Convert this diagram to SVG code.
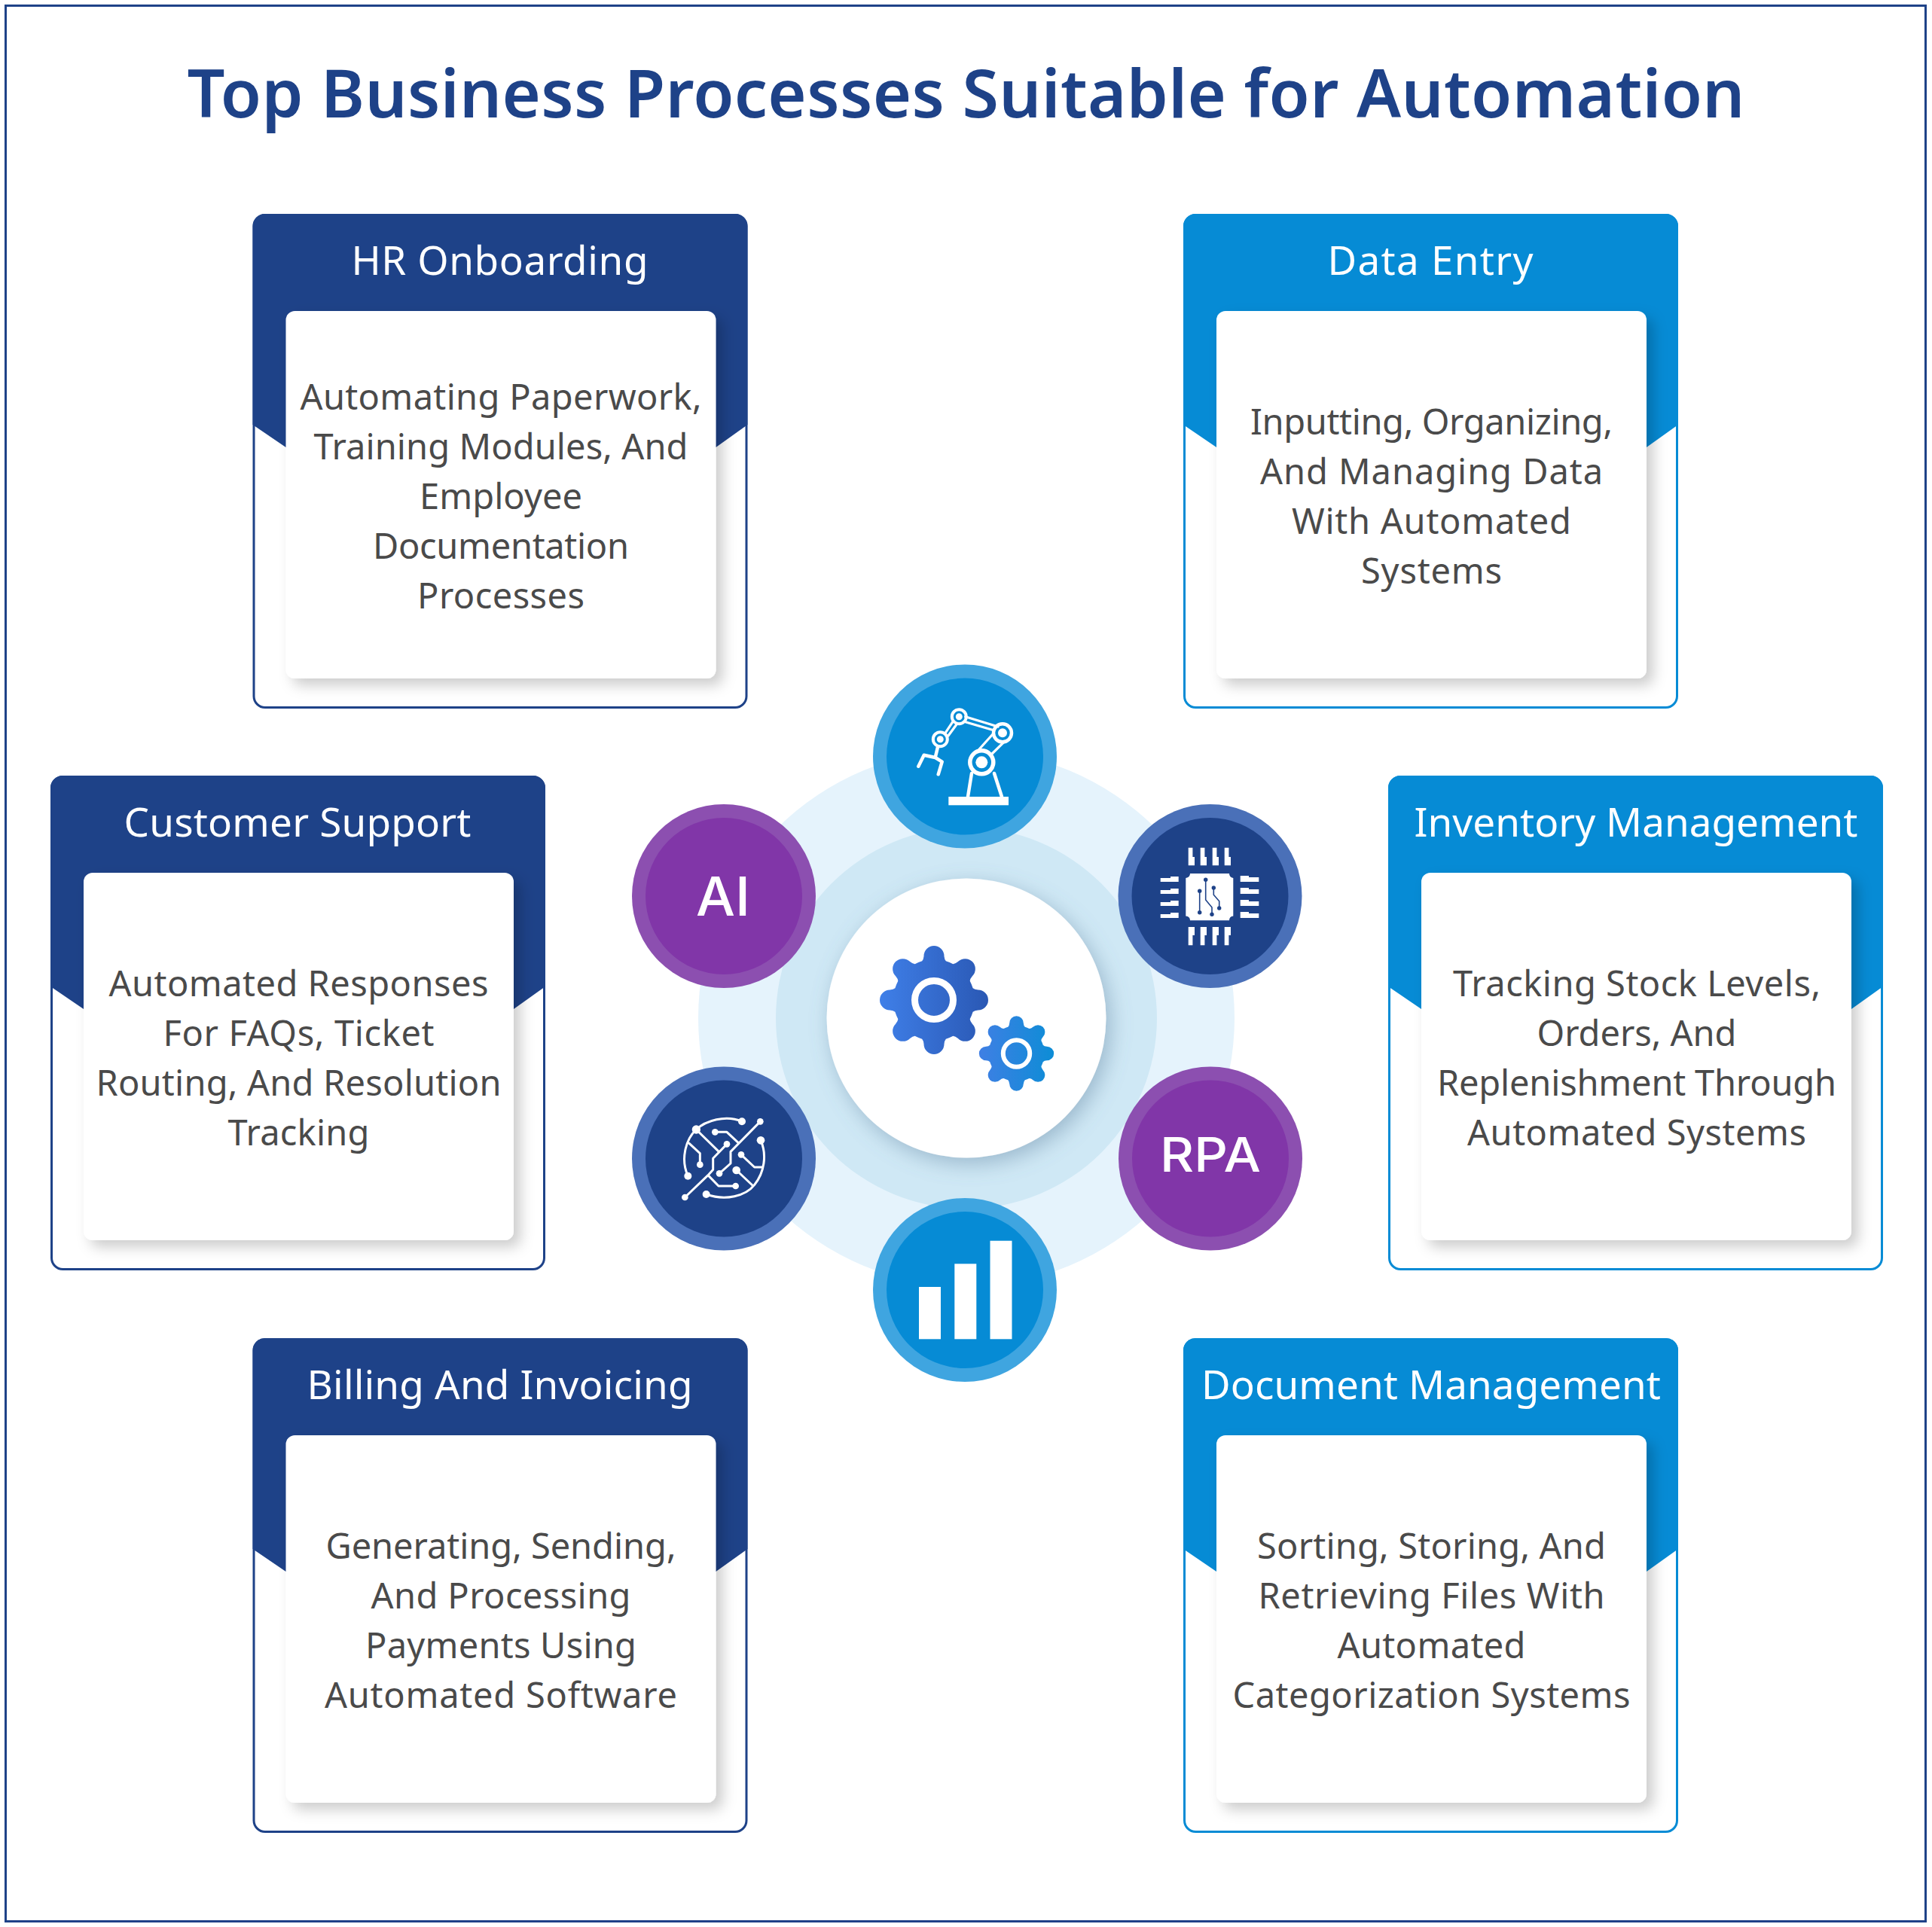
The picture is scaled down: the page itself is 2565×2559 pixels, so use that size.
<svg xmlns="http://www.w3.org/2000/svg" width="2565" height="2559" viewBox="0 0 2565 2559">
<style>
text{font-family:"Noto Sans","Liberation Sans",sans-serif;text-anchor:middle}
.title{font-size:88px;font-weight:600;fill:#1e4288}
.head{font-size:53px;fill:#fff}
.body{font-size:47px;fill:#4a4a4a}
.wt{fill:#fff}
.navy{color:#1e4288}
.sky{color:#068bd5}
.edge{fill:#fff;stroke:currentColor;stroke-width:3}
.band{fill:currentColor}
.inner{fill:#fff;filter:url(#cardShadow)}
.b-o{fill:#3fa5e0}.b-i{fill:#068bd5}
.n-o{fill:#4a70b8}.n-i{fill:#1e4288}
.p-o{fill:#8c4fb0}.p-i{fill:#8136a8}
.badge{font-family:Inter,"Noto Sans",sans-serif;font-weight:500;fill:#fff}
.ln{fill:none;stroke:#fff;stroke-linecap:round;stroke-linejoin:round}
</style>
<defs>
<filter id="cardShadow" x="-10%" y="-10%" width="125%" height="125%"><feDropShadow dx="9" dy="9" stdDeviation="9" flood-color="#000" flood-opacity=".2"/></filter>
<filter id="hubShadow" x="-20%" y="-20%" width="140%" height="140%"><feDropShadow dx="6" dy="8" stdDeviation="14" flood-color="#5a7f9c" flood-opacity=".45"/></filter>
<linearGradient id="g1" gradientUnits="userSpaceOnUse" x1="1168" y1="1328" x2="1312" y2="1328"><stop offset="0" stop-color="#3f7fe8"/><stop offset="1" stop-color="#2a58b4"/></linearGradient>
<linearGradient id="g2" gradientUnits="userSpaceOnUse" x1="1300" y1="1399" x2="1399" y2="1399"><stop offset="0" stop-color="#3f7fe4"/><stop offset="1" stop-color="#0d8dd6"/></linearGradient>
<path id="tooth" d="M-21,-49Q-14,-50 -13.5,-58.5A13.5,13.5 0 0 1 13.5,-58.5Q14,-50 21,-49L0,0Z"/>
<clipPath id="gearA">
<circle cx="1240" cy="1328" r="54"/>
<use href="#tooth" transform="translate(1240 1328)"/><use href="#tooth" transform="translate(1240 1328) rotate(45)"/><use href="#tooth" transform="translate(1240 1328) rotate(90)"/><use href="#tooth" transform="translate(1240 1328) rotate(135)"/><use href="#tooth" transform="translate(1240 1328) rotate(180)"/><use href="#tooth" transform="translate(1240 1328) rotate(225)"/><use href="#tooth" transform="translate(1240 1328) rotate(270)"/><use href="#tooth" transform="translate(1240 1328) rotate(315)"/>
</clipPath>
<clipPath id="gearB">
<circle cx="1349.5" cy="1399" r="37"/>
<use href="#tooth" transform="translate(1349.5 1399) scale(.69)"/><use href="#tooth" transform="translate(1349.5 1399) rotate(45) scale(.69)"/><use href="#tooth" transform="translate(1349.5 1399) rotate(90) scale(.69)"/><use href="#tooth" transform="translate(1349.5 1399) rotate(135) scale(.69)"/><use href="#tooth" transform="translate(1349.5 1399) rotate(180) scale(.69)"/><use href="#tooth" transform="translate(1349.5 1399) rotate(225) scale(.69)"/><use href="#tooth" transform="translate(1349.5 1399) rotate(270) scale(.69)"/><use href="#tooth" transform="translate(1349.5 1399) rotate(315) scale(.69)"/>
</clipPath>
<g id="cardBase">
<rect class="edge" x="1.5" y="1.5" width="654" height="654" rx="15"/>
<path class="band" d="M0,16A16,16 0 0 1 16,0H641A16,16 0 0 1 657,16V280L615,310H44L0,280Z"/>
<rect class="inner" x="44" y="129" width="571" height="488" rx="12"/>
</g>
</defs>
<rect width="2565" height="2559" fill="#fff"/>
<rect x="7.5" y="7.5" width="2549" height="2544" fill="none" stroke="#1e4288" stroke-width="3"/>
<text class="title" x="1282.5" y="156" textLength="2068">Top Business Processes Suitable for Automation</text>

<g id="connectors"/>

<g id="card-hr" class="navy" transform="translate(335.5 284)"><use href="#cardBase"/>
<text class="head" x="328" y="81" textLength="394">HR Onboarding</text>
<text class="body" x="329.5" y="260" textLength="533">Automating Paperwork,</text><text class="body" x="329.5" y="326" textLength="497">Training Modules, And</text><text class="body" x="329.5" y="392" textLength="216">Employee</text><text class="body" x="329.5" y="458" textLength="340">Documentation</text><text class="body" x="329.5" y="524" textLength="222">Processes</text></g>

<g id="card-data" class="sky" transform="translate(1571 284)"><use href="#cardBase"/>
<text class="head" x="328" y="81" textLength="273">Data Entry</text>
<text class="body" x="329.5" y="293" textLength="481">Inputting, Organizing,</text><text class="body" x="329.5" y="359" textLength="455">And Managing Data</text><text class="body" x="329.5" y="425" textLength="371">With Automated</text><text class="body" x="329.5" y="491" textLength="187">Systems</text></g>

<g id="card-support" class="navy" transform="translate(67 1030)"><use href="#cardBase"/>
<text class="head" x="328" y="81" textLength="461">Customer Support</text>
<text class="body" x="329.5" y="293" textLength="504">Automated Responses</text><text class="body" x="329.5" y="359" textLength="360">For FAQs, Ticket</text><text class="body" x="329.5" y="425" textLength="538">Routing, And Resolution</text><text class="body" x="329.5" y="491" textLength="188">Tracking</text></g>

<g id="card-inventory" class="sky" transform="translate(1843 1030)"><use href="#cardBase"/>
<text class="head" x="329" y="81" textLength="589">Inventory Management</text>
<text class="body" x="330" y="293" textLength="488">Tracking Stock Levels,</text><text class="body" x="330" y="359" textLength="265">Orders, And</text><text class="body" x="330" y="425" textLength="530">Replenishment Through</text><text class="body" x="330" y="491" textLength="450">Automated Systems</text></g>

<g id="card-billing" class="navy" transform="translate(335.5 1777)"><use href="#cardBase"/>
<text class="head" x="328" y="81" textLength="512">Billing And Invoicing</text>
<text class="body" x="329.5" y="293" textLength="465">Generating, Sending,</text><text class="body" x="329.5" y="359" textLength="345">And Processing</text><text class="body" x="329.5" y="425" textLength="360">Payments Using</text><text class="body" x="329.5" y="491" textLength="468">Automated Software</text></g>

<g id="card-docs" class="sky" transform="translate(1571 1777)"><use href="#cardBase"/>
<text class="head" x="329" y="81" textLength="610">Document Management</text>
<text class="body" x="329.5" y="293" textLength="463">Sorting, Storing, And</text><text class="body" x="329.5" y="359" textLength="460">Retrieving Files With</text><text class="body" x="329.5" y="425" textLength="250">Automated</text><text class="body" x="329.5" y="491" textLength="528">Categorization Systems</text></g>

<g id="hub">
<circle cx="1283" cy="1352" r="356" fill="#e5f3fc"/>
<circle cx="1283" cy="1352" r="253" fill="#cfe8f5"/>
<circle cx="1283" cy="1352" r="185.5" fill="#fff" filter="url(#hubShadow)"/>
<rect x="1160" y="1250" width="240" height="200" fill="url(#g1)" clip-path="url(#gearA)"/>
<rect x="1290" y="1340" width="120" height="120" fill="url(#g2)" clip-path="url(#gearB)"/>
<circle cx="1240" cy="1328" r="25.5" fill="none" stroke="#fff" stroke-width="9"/>
<circle cx="1349.5" cy="1399" r="17.7" fill="none" stroke="#fff" stroke-width="6"/>
</g>

<g id="node-robot">
<circle class="b-o" cx="1281" cy="1004.5" r="122"/><circle class="b-i" cx="1281" cy="1004.5" r="104"/>
<rect class="wt" x="1259.3" y="1058" width="79.7" height="11.3"/>
<g class="ln" stroke-width="4.5">
<path d="M1290,1027L1285,1058M1320,1027L1330,1058"/>
<circle cx="1303.3" cy="1012.3" r="15.5" stroke-width="5.5"/>
<circle cx="1331" cy="973.3" r="12" stroke-width="4.5"/><circle cx="1273.3" cy="951.7" r="9.5" stroke-width="4"/><circle cx="1248.3" cy="981.7" r="9.5" stroke-width="4"/>
<path stroke-width="3.2" d="M1281.7,951.7L1325,965M1280,958.3L1320,970M1255,973.3L1265,958.3M1259,977L1270,962M1318,975L1300,995M1331.7,986.7L1315,1003"/>
<path d="M1245,992L1241.7,1006M1219.3,1017.7L1226.7,1002.7L1241.7,1006L1250.7,1011.7L1245.7,1028.3"/>
</g>
<circle class="wt" cx="1303.3" cy="1012.3" r="8"/><circle class="wt" cx="1331" cy="973.3" r="6"/><circle class="wt" cx="1273.3" cy="951.7" r="4.5"/><circle class="wt" cx="1248.3" cy="981.7" r="4.5"/>
</g>

<g id="node-chip">
<circle class="n-o" cx="1606.5" cy="1190" r="122"/><circle class="n-i" cx="1606.5" cy="1190" r="104"/>
<path class="wt" d="M1580,1160H1632Q1632,1165 1637.3,1166V1216.5Q1632,1217 1632,1222.3H1580Q1580,1217 1574.3,1216.5V1166Q1580,1165 1580,1160Z"/>
<path class="wt" d="M1577.7,1125.7h5.7v12.3h2.6v11.3h-8.3zM1593.7,1125.7h5.7v12.3h2.6v11.3h-8.3zM1609.7,1125.7h5.7v12.3h2.6v11.3h-8.3zM1625.7,1125.7h5.7v12.3h2.6v11.3h-8.3z"/>
<path class="wt" d="M1577.7,1231h8.3v11h-2.6v13.3h-5.7zM1593.7,1231h8.3v11h-2.6v13.3h-5.7zM1609.7,1231h8.3v11h-2.6v13.3h-5.7zM1625.7,1231h8.3v11h-2.6v13.3h-5.7z"/>
<path class="wt" d="M1540.7,1166H1554V1164H1564.7V1171H1540.7ZM1540.7,1182H1554V1180H1564.7V1187H1540.7ZM1540.7,1198H1554V1196H1564.7V1203H1540.7ZM1540.7,1214H1554V1212H1564.7V1219H1540.7Z"/>
<path class="wt" d="M1646.7,1163H1658V1165H1671.3V1171H1646.7ZM1646.7,1179H1658V1181H1671.3V1187H1646.7ZM1646.7,1195H1658V1197H1671.3V1203H1646.7ZM1646.7,1211H1658V1213H1671.3V1219H1646.7Z"/>
<path fill="none" stroke="#1e4288" stroke-width="1.6" d="M1600.7,1168.3V1195L1609,1205V1214.3M1592.7,1183.3V1211.7M1611.3,1179V1188.3L1618.7,1196.7V1206"/>
<g fill="#1e4288"><circle cx="1600.7" cy="1168.3" r="2.7"/><circle cx="1609" cy="1214.3" r="2.7"/><circle cx="1592.7" cy="1183.3" r="2.7"/><circle cx="1592.7" cy="1211.7" r="2.7"/><circle cx="1611.3" cy="1179" r="2.7"/><circle cx="1618.7" cy="1206" r="2.7"/></g>
</g>

<g id="node-ai">
<circle class="p-o" cx="961" cy="1190" r="122"/><circle class="p-i" cx="961" cy="1190" r="104"/>
<text class="badge" x="960" y="1216" font-size="72" textLength="72" lengthAdjust="spacingAndGlyphs">AI</text>
</g>

<g id="node-rpa">
<circle class="p-o" cx="1607" cy="1538.5" r="122"/><circle class="p-i" cx="1607" cy="1538.5" r="104"/>
<text class="badge" x="1607" y="1555.7" font-size="63" textLength="134" lengthAdjust="spacingAndGlyphs">RPA</text>
</g>

<g id="node-network">
<circle class="n-o" cx="961" cy="1538.5" r="122"/><circle class="n-i" cx="961" cy="1538.5" r="104"/>
<g transform="translate(830 1410) scale(.33333)">
<path class="ln" stroke-width="9" d="M465,238C400,210 320,235 283,270C240,310 220,390 250,455M323,528C400,555 480,535 515,490C555,440 565,370 540,313M238,540L330,452L350,430V385L405,328M538,238L420,358V405L375,445M283,270L370,355M255,325L298,365V410M358,280H405L450,322M462,370L515,420H548M443,432L510,495M330,452L372,495H440"/>
<g class="wt"><circle cx="465" cy="238" r="15"/><circle cx="283" cy="270" r="17"/><circle cx="250" cy="455" r="15"/><circle cx="323" cy="528" r="15"/><circle cx="540" cy="313" r="16"/><circle cx="238" cy="540" r="13"/><circle cx="405" cy="328" r="13"/><circle cx="538" cy="238" r="13"/><circle cx="375" cy="445" r="13"/><circle cx="298" cy="410" r="13"/><circle cx="358" cy="280" r="13"/><circle cx="462" cy="370" r="13"/><circle cx="443" cy="432" r="16"/><circle cx="440" cy="495" r="13"/></g>
</g>
</g>

<g id="node-chart">
<circle class="b-o" cx="1281" cy="1713" r="122"/><circle class="b-i" cx="1281" cy="1713" r="104"/>
<rect class="wt" x="1220" y="1709" width="29" height="69.3"/><rect class="wt" x="1267.3" y="1678.3" width="29" height="100"/><rect class="wt" x="1314.5" y="1647.7" width="29" height="130.6"/>
</g>
</svg>
